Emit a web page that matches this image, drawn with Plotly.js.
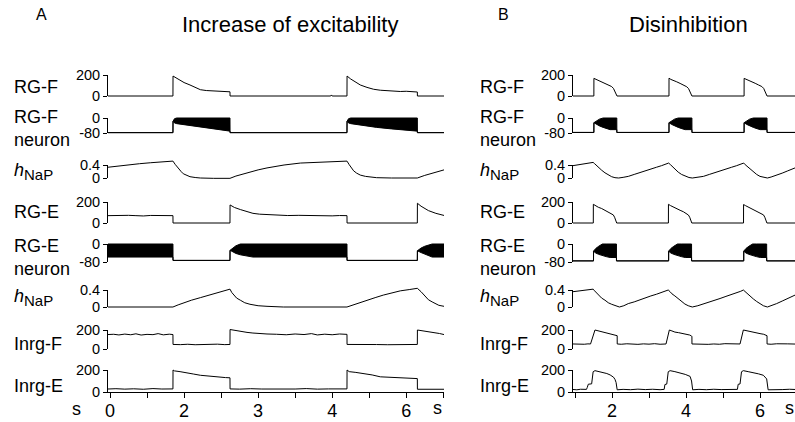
<!DOCTYPE html>
<html>
<head>
<meta charset="utf-8">
<script src="https://cdn.plot.ly/plotly-3.0.1.min.js"></script>
<style>html,body{margin:0;padding:0;background:#fff;}#chart{width:795px;height:422px;}</style>
</head>
<body>
<div id="chart"></div>
<script>
// ---------------- DATA ----------------
// Panel A  (x axis units: tick spacing as drawn, labels 0,2,3,4,6)
const A_xTickVals = [0, 1, 2, 3, 4];
const A_xTickText = ['0', '2', '3', '4', '6'];
const A_xMinorVals = [0.5, 1.5, 2.5, 3.5, 4.5];

const A_t_RGF = [-0.03, 0.85, 0.851, 0.9, 0.95, 1.0, 1.08, 1.15, 1.22, 1.3, 1.39, 1.45, 1.5, 1.56, 1.6, 1.62, 1.621, 2.98, 2.99, 3.0, 3.2, 3.201, 3.25, 3.29, 3.33, 3.38, 3.47, 3.56, 3.65, 3.74, 3.83, 3.92, 4.0, 4.08, 4.15, 4.151, 4.51];
const A_v_RGF = [0, 0, 190, 170, 150, 128, 105, 80, 60, 52, 48, 50, 45, 47, 42, 40, 0, 0, 10, 0, 0, 190, 162, 143, 124, 105, 82, 64, 55, 49, 46, 43, 45, 41, 38, 0, 0];

const A_t_RGFn = [-0.03, 0.85, 0.851, 0.87, 0.9, 1.0, 1.1, 1.2, 1.3, 1.4, 1.5, 1.62, 1.621, 3.2, 3.201, 3.22, 3.25, 3.4, 3.6, 3.8, 4.0, 4.15, 4.151, 4.51];
const A_top_RGFn = [-78, -78, -18, -4, 0, 0, 0, 0, 0, 0, 0, 0, -78, -78, -18, -4, 0, 0, 0, 0, 0, 0, -78, -78];
const A_bot_RGFn = [-78, -78, -18, -26, -30, -36, -42, -48, -54, -59, -64, -70, -78, -78, -18, -26, -30, -40, -50, -58, -65, -70, -78, -78];

const A_t_h1 = [-0.03, 0.1, 0.25, 0.4, 0.55, 0.7, 0.85, 0.88, 0.92, 0.96, 0.99, 1.04, 1.08, 1.15, 1.22, 1.4, 1.62, 1.7, 1.8, 1.89, 2.0, 2.12, 2.35, 2.57, 2.8, 3.0, 3.2, 3.23, 3.26, 3.29, 3.33, 3.38, 3.45, 3.51, 3.6, 3.8, 4.0, 4.15, 4.25, 4.38, 4.51];
const A_v_h1 = [0.33, 0.37, 0.41, 0.44, 0.47, 0.5, 0.52, 0.42, 0.3, 0.2, 0.13, 0.07, 0.04, 0.015, 0.0, -0.01, -0.01, 0.06, 0.13, 0.18, 0.25, 0.31, 0.4, 0.46, 0.49, 0.51, 0.52, 0.41, 0.3, 0.22, 0.15, 0.09, 0.05, 0.03, 0.01, 0, 0, 0, 0.08, 0.16, 0.25];

const A_t_RGE = [-0.03, 0.05, 0.15, 0.25, 0.35, 0.45, 0.55, 0.65, 0.75, 0.85, 0.851, 1.62, 1.621, 1.68, 1.76, 1.85, 1.93, 2.02, 2.12, 2.25, 2.4, 2.55, 2.7, 2.85, 3.0, 3.1, 3.2, 3.201, 4.15, 4.151, 4.2, 4.3, 4.4, 4.51];
const A_v_RGE = [70, 72, 68, 73, 70, 67, 72, 69, 73, 70, 0, 0, 172, 148, 128, 105, 92, 84, 79, 74, 71, 73, 69, 72, 68, 71, 70, 0, 0, 188, 160, 118, 92, 72];

const A_t_RGEn = [-0.03, 0.85, 0.851, 1.62, 1.621, 1.66, 1.7, 1.76, 1.85, 1.93, 3.2, 3.201, 4.15, 4.151, 4.2, 4.25, 4.3, 4.35, 4.51];
const A_top_RGEn = [0, 0, -73, -73, -28, -16, -8, 0, 0, 0, 0, -73, -73, -30, -18, -10, -4, 0, 0];
const A_bot_RGEn = [-58, -58, -73, -73, -28, -36, -42, -48, -54, -58, -58, -73, -73, -30, -38, -45, -52, -58, -58];

const A_t_h2 = [-0.03, 0.85, 0.92, 0.99, 1.1, 1.22, 1.33, 1.44, 1.53, 1.62, 1.645, 1.67, 1.71, 1.76, 1.82, 1.89, 2.0, 2.12, 2.34, 3.2, 3.33, 3.47, 3.58, 3.69, 3.8, 3.92, 4.04, 4.15, 4.2, 4.26, 4.3, 4.35, 4.4, 4.44, 4.51];
const A_v_h2 = [0, 0, 0.05, 0.096, 0.16, 0.22, 0.28, 0.34, 0.38, 0.42, 0.34, 0.28, 0.21, 0.16, 0.1, 0.064, 0.03, 0.016, 0, 0, 0.08, 0.16, 0.22, 0.28, 0.33, 0.38, 0.41, 0.44, 0.36, 0.24, 0.17, 0.12, 0.07, 0.04, 0.016];

const A_t_IF = [-0.03, 0.05, 0.12, 0.2, 0.28, 0.35, 0.42, 0.5, 0.58, 0.65, 0.72, 0.8, 0.85, 0.851, 0.95, 1.05, 1.15, 1.25, 1.35, 1.45, 1.55, 1.62, 1.621, 1.68, 1.76, 1.85, 1.93, 2.02, 2.12, 2.25, 2.38, 2.5, 2.62, 2.72, 2.8, 2.9, 3.0, 3.1, 3.2, 3.201, 3.3, 3.45, 3.6, 3.75, 3.9, 4.05, 4.15, 4.151, 4.25, 4.35, 4.45, 4.51];
const A_v_IF = [152, 155, 148, 157, 150, 160, 147, 154, 151, 162, 149, 156, 152, 48, 46, 50, 45, 49, 47, 51, 46, 48, 205, 196, 188, 175, 168, 162, 158, 155, 150, 158, 152, 162, 148, 156, 150, 158, 154, 48, 46, 50, 47, 45, 49, 47, 48, 200, 190, 178, 163, 152];

const A_t_IE = [-0.03, 0.08, 0.2, 0.32, 0.45, 0.58, 0.7, 0.85, 0.851, 0.87, 0.946, 1.02, 1.13, 1.22, 1.31, 1.4, 1.49, 1.56, 1.62, 1.621, 1.75, 1.9, 2.05, 2.2, 2.35, 2.5, 2.65, 2.8, 2.95, 3.1, 3.2, 3.201, 3.23, 3.32, 3.42, 3.54, 3.65, 3.76, 3.87, 3.98, 4.1, 4.15, 4.151, 4.3, 4.51];
const A_v_IE = [27, 30, 26, 29, 25, 31, 27, 28, 200, 192, 185, 174, 163, 152, 145, 140, 132, 131, 129, 28, 26, 30, 27, 25, 29, 27, 31, 26, 28, 27, 28, 200, 185, 178, 169, 155, 138, 133, 129, 126, 123, 122, 25, 27, 25];

// Panel B  (time in s)
const B_xTickVals = [2, 4, 6];
const B_xTickText = ['2', '4', '6'];
const B_xMinorVals = [1, 3, 5];

const B_t_RGF = [0.946, 1.51, 1.511, 1.56, 1.63, 1.72, 1.81, 1.9, 1.99, 2.04, 2.08, 2.11, 2.135, 3.54, 3.541, 3.59, 3.66, 3.75, 3.84, 3.93, 4.02, 4.07, 4.11, 4.14, 4.16, 5.57, 5.571, 5.62, 5.69, 5.78, 5.87, 5.96, 6.05, 6.1, 6.14, 6.17, 6.19, 6.946];
const B_v_RGF = [0, 0, 168, 160, 150, 137, 122, 105, 90, 72, 45, 18, 0, 0, 170, 158, 150, 135, 120, 104, 88, 70, 45, 18, 0, 0, 168, 160, 151, 136, 121, 105, 90, 72, 45, 18, 0, 0];

const B_t_RGFn = [0.946, 1.51, 1.511, 1.58, 1.66, 1.76, 1.86, 1.95, 2.13, 2.131, 3.54, 3.541, 3.61, 3.69, 3.79, 3.89, 3.98, 4.16, 4.161, 5.57, 5.571, 5.64, 5.72, 5.82, 5.92, 6.01, 6.19, 6.191, 6.946];
const B_top_RGFn = [-77, -77, -25, -14, -6, 0, 0, 0, 0, -77, -77, -25, -14, -6, 0, 0, 0, 0, -77, -77, -25, -14, -6, 0, 0, 0, 0, -77, -77];
const B_bot_RGFn = [-77, -77, -25, -34, -42, -50, -57, -62, -62, -77, -77, -25, -34, -42, -50, -57, -62, -62, -77, -77, -25, -34, -42, -50, -57, -62, -62, -77, -77];

const B_t_h1 = [0.946, 1.1, 1.3, 1.49, 1.53, 1.58, 1.63, 1.72, 1.81, 1.9, 1.99, 2.08, 2.18, 2.3, 2.44, 2.6, 2.75, 2.89, 3.05, 3.2, 3.34, 3.45, 3.53, 3.58, 3.63, 3.7, 3.79, 3.88, 3.98, 4.08, 4.17, 4.32, 4.47, 4.63, 4.78, 4.92, 5.08, 5.23, 5.37, 5.48, 5.56, 5.6, 5.66, 5.73, 5.82, 5.91, 6.0, 6.1, 6.2, 6.3, 6.45, 6.6, 6.75, 6.946];
const B_v_h1 = [0.38, 0.41, 0.45, 0.48, 0.44, 0.38, 0.32, 0.24, 0.16, 0.09, 0.04, 0.01, 0.0, 0.02, 0.05, 0.11, 0.17, 0.22, 0.28, 0.33, 0.38, 0.42, 0.46, 0.41, 0.35, 0.27, 0.18, 0.11, 0.05, 0.015, 0.0, 0.02, 0.05, 0.11, 0.17, 0.22, 0.28, 0.33, 0.38, 0.42, 0.46, 0.41, 0.35, 0.27, 0.18, 0.11, 0.05, 0.015, 0.0, 0.03, 0.08, 0.15, 0.22, 0.31];

const B_t_RGE = [0.946, 1.495, 1.496, 1.55, 1.63, 1.72, 1.81, 1.9, 1.97, 2.035, 2.07, 2.1, 2.127, 3.525, 3.526, 3.58, 3.66, 3.75, 3.84, 3.93, 4.0, 4.065, 4.1, 4.13, 4.157, 5.555, 5.556, 5.61, 5.69, 5.78, 5.87, 5.96, 6.03, 6.095, 6.13, 6.16, 6.187, 6.946];
const B_v_RGE = [0, 0, 178, 165, 150, 138, 122, 108, 92, 77, 55, 31, 0, 0, 178, 166, 150, 136, 121, 107, 92, 76, 55, 30, 0, 0, 176, 165, 151, 137, 122, 108, 93, 77, 55, 31, 0, 0];

const B_t_RGEn = [0.946, 1.5, 1.501, 1.56, 1.64, 1.74, 1.84, 1.95, 2.12, 2.121, 3.53, 3.531, 3.59, 3.67, 3.77, 3.87, 3.98, 4.15, 4.151, 5.56, 5.561, 5.62, 5.7, 5.8, 5.9, 6.01, 6.18, 6.181, 6.946];
const B_top_RGEn = [-75, -75, -32, -20, -10, 0, 0, 0, 0, -75, -75, -32, -20, -10, 0, 0, 0, 0, -75, -75, -32, -20, -10, 0, 0, 0, 0, -75, -75];
const B_bot_RGEn = [-75, -75, -32, -40, -46, -52, -56, -60, -60, -75, -75, -32, -40, -46, -52, -56, -60, -60, -75, -75, -32, -40, -46, -52, -56, -60, -60, -75, -75];

const B_t_h2 = [0.946, 1.1, 1.3, 1.49, 1.53, 1.58, 1.63, 1.72, 1.81, 1.9, 1.99, 2.08, 2.2, 2.32, 2.44, 2.6, 2.75, 2.89, 3.05, 3.2, 3.34, 3.45, 3.52, 3.57, 3.62, 3.7, 3.79, 3.88, 3.97, 4.06, 4.17, 4.32, 4.47, 4.63, 4.78, 4.92, 5.08, 5.23, 5.37, 5.48, 5.55, 5.6, 5.65, 5.73, 5.82, 5.91, 6.0, 6.09, 6.2, 6.3, 6.45, 6.6, 6.75, 6.946];
const B_v_h2 = [0.36, 0.38, 0.4, 0.42, 0.38, 0.33, 0.28, 0.21, 0.16, 0.1, 0.064, 0.03, 0.0, 0.03, 0.08, 0.12, 0.17, 0.21, 0.26, 0.3, 0.34, 0.37, 0.4, 0.36, 0.31, 0.26, 0.19, 0.13, 0.07, 0.03, 0.0, 0.03, 0.07, 0.11, 0.16, 0.2, 0.25, 0.29, 0.33, 0.37, 0.4, 0.36, 0.31, 0.26, 0.19, 0.13, 0.07, 0.03, 0.0, 0.03, 0.08, 0.14, 0.2, 0.28];

const B_t_IF = [0.946, 1.05, 1.15, 1.25, 1.35, 1.42, 1.54, 1.6, 1.68, 1.77, 1.86, 1.95, 2.04, 2.11, 2.14, 2.141, 2.25, 2.4, 2.55, 2.7, 2.85, 3.0, 3.15, 3.3, 3.46, 3.55, 3.62, 3.7, 3.8, 3.9, 4.02, 4.1, 4.15, 4.16, 4.161, 4.3, 4.45, 4.6, 4.75, 4.9, 5.05, 5.2, 5.35, 5.46, 5.55, 5.63, 5.73, 5.82, 5.91, 6.0, 6.1, 6.18, 6.19, 6.191, 6.3, 6.45, 6.6, 6.75, 6.946];
const B_v_IF = [53, 51, 56, 50, 54, 53, 200, 194, 187, 180, 169, 163, 156, 147, 140, 53, 50, 55, 52, 49, 54, 51, 56, 50, 53, 200, 190, 178, 172, 165, 156, 147, 137, 130, 53, 51, 55, 49, 53, 50, 56, 52, 49, 53, 200, 192, 187, 175, 168, 162, 155, 147, 140, 53, 50, 55, 51, 54, 52];

const B_t_IE = [0.946, 1.05, 1.15, 1.25, 1.31, 1.33, 1.36, 1.45, 1.49, 1.54, 1.6, 1.68, 1.77, 1.86, 1.95, 2.04, 2.08, 2.11, 2.14, 2.3, 2.5, 2.7, 2.9, 3.1, 3.3, 3.41, 3.43, 3.48, 3.52, 3.57, 3.7, 3.84, 3.98, 4.11, 4.15, 4.18, 4.35, 4.55, 4.75, 4.95, 5.15, 5.3, 5.39, 5.41, 5.46, 5.5, 5.55, 5.68, 5.82, 5.96, 6.09, 6.15, 6.18, 6.22, 6.4, 6.6, 6.8, 6.946];
const B_v_IE = [23, 20, 25, 22, 24, 40, 71, 74, 184, 194, 190, 184, 176, 168, 155, 135, 115, 87, 20, 24, 21, 26, 22, 25, 21, 24, 68, 72, 184, 194, 185, 174, 160, 142, 100, 20, 24, 21, 25, 22, 26, 23, 24, 70, 73, 184, 194, 185, 177, 165, 152, 135, 119, 20, 24, 22, 25, 23];

// Row labels and y tick labels
const H_NAP = '<i>h</i><sub><span style="font-size:15px">NaP</span></sub>';
const rowLabels = ['RG-F', 'RG-F<br>neuron', H_NAP, 'RG-E', 'RG-E<br>neuron', H_NAP, 'Inrg-F', 'Inrg-E'];
const rowMin = [0, -80, 0, 0, -80, 0, 0, 0];
const rowMax = [200, 0, 0.4, 200, 0, 0.4, 200, 200];
const rowTickText = [['0', '200'], ['-80', '0'], ['0', '0.4'], ['0', '200'], ['-80', '0'], ['0', '0.4'], ['0', '200'], ['0', '200']];

// ---------------- LAYOUT GEOMETRY ----------------
const W = 795, H = 422;
const rowTopPx = [75, 118, 165, 202, 244, 290, 330, 370];
const rowBotPx = [96, 133, 178, 223, 262, 307, 349, 392];
const labelYPx = [86.5, 128, 171, 212, 257, 297, 344, 386];
const padTop = 7, padBot = 4;
const FONT = 'Arial, "Liberation Sans", sans-serif';
const panels = [
  { xa: 'x', xkey: 'xaxis', dom: [108 / W, 444 / W], range: [-0.027, 4.51], tv: A_xTickVals, tt: A_xTickText, mv: A_xMinorVals, labelX: 12,
    rows: [[A_t_RGF, A_v_RGF], [A_t_RGFn, A_top_RGFn, A_bot_RGFn], [A_t_h1, A_v_h1], [A_t_RGE, A_v_RGE], [A_t_RGEn, A_top_RGEn, A_bot_RGEn], [A_t_h2, A_v_h2], [A_t_IF, A_v_IF], [A_t_IE, A_v_IE]] },
  { xa: 'x2', xkey: 'xaxis2', dom: [573 / W, 1], range: [0.946, 6.946], tv: B_xTickVals, tt: B_xTickText, mv: B_xMinorVals, labelX: 478,
    rows: [[B_t_RGF, B_v_RGF], [B_t_RGFn, B_top_RGFn, B_bot_RGFn], [B_t_h1, B_v_h1], [B_t_RGE, B_v_RGE], [B_t_RGEn, B_top_RGEn, B_bot_RGEn], [B_t_h2, B_v_h2], [B_t_IF, B_v_IF], [B_t_IE, B_v_IE]] }
];

const traces = [];
const layout = {
  width: W, height: H, margin: { l: 0, r: 0, t: 0, b: 0 },
  paper_bgcolor: '#fff', plot_bgcolor: 'rgba(0,0,0,0)',
  showlegend: false, font: { family: FONT, color: '#000' },
  annotations: []
};
const LINE = { color: '#000', width: 1 };
function yid(n) { return n === 1 ? 'y' : 'y' + n; }
function ykey(n) { return n === 1 ? 'yaxis' : 'yaxis' + n; }

panels.forEach((p, pi) => {
  for (let r = 0; r < 8; r++) {
    const nDisp = pi * 16 + r * 2 + 1, nData = nDisp + 1;
    const top = rowTopPx[r], bot = rowBotPx[r];
    const k = (rowMax[r] - rowMin[r]) / (bot - top);
    layout[ykey(nDisp)] = {
      anchor: p.xa, domain: [1 - bot / H, 1 - top / H], range: [rowMin[r], rowMax[r]], autorange: false,
      showline: true, linecolor: '#000', linewidth: 1, ticks: 'outside', ticklen: 4, tickwidth: 1, tickcolor: '#000',
      tickvals: [rowMin[r], rowMax[r]], ticktext: rowTickText[r], tickfont: { size: 14.5, family: FONT, color: '#000' },
      showgrid: false, zeroline: false, fixedrange: true
    };
    layout[ykey(nData)] = {
      anchor: p.xa, domain: [1 - (bot + padBot) / H, 1 - (top - padTop) / H],
      range: [rowMin[r] - padBot * k, rowMax[r] + padTop * k], autorange: false,
      showline: false, showticklabels: false, ticks: '', showgrid: false, zeroline: false, fixedrange: true
    };
    traces.push({ type: 'scatter', mode: 'lines', x: [], y: [], xaxis: p.xa, yaxis: yid(nDisp), hoverinfo: 'skip' });
    const d = p.rows[r];
    traces.push({ type: 'scatter', mode: 'lines', x: d[0], y: d[1], xaxis: p.xa, yaxis: yid(nData), line: LINE, hoverinfo: 'skip' });
    if (d.length === 3) {
      traces.push({ type: 'scatter', mode: 'lines', x: d[0], y: d[2], xaxis: p.xa, yaxis: yid(nData), line: LINE, fill: 'tonexty', fillcolor: '#000', hoverinfo: 'skip' });
    }
    layout.annotations.push({
      xref: 'paper', yref: 'paper', x: p.labelX / W, y: 1 - labelYPx[r] / H, xanchor: 'left', yanchor: 'middle',
      text: rowLabels[r], showarrow: false, align: 'left', font: { size: 18, family: FONT, color: '#000' }
    });
  }
  layout[p.xkey] = {
    anchor: yid(pi * 16 + 15), domain: p.dom, range: p.range, autorange: false,
    showline: true, linecolor: '#000', linewidth: 1, ticks: 'outside', ticklen: 5, tickwidth: 1, tickcolor: '#000',
    tickvals: p.tv, ticktext: p.tt, tickfont: { size: 18, family: FONT, color: '#000' }, ticklabelstandoff: -3,
    minor: { tickvals: p.mv, ticks: 'outside', ticklen: 5, tickwidth: 1, tickcolor: '#000', showgrid: false },
    showgrid: false, zeroline: false, fixedrange: true
  };
});

function ann(text, xpx, ypx, size) {
  layout.annotations.push({ xref: 'paper', yref: 'paper', x: xpx / W, y: 1 - ypx / H, xanchor: 'center', yanchor: 'middle',
    text: text, showarrow: false, font: { size: size, family: FONT, color: '#000' } });
}
ann('A', 41, 15, 16);
ann('B', 503, 15, 16);
ann('Increase of excitability', 290, 24, 22);
ann('Disinhibition', 688, 24, 22);
ann('s', 76, 409, 18);
ann('s', 437, 408, 18);
ann('s', 789, 408, 18);

Plotly.newPlot('chart', traces, layout, { displayModeBar: false, staticPlot: true });
</script>
</body>
</html>
